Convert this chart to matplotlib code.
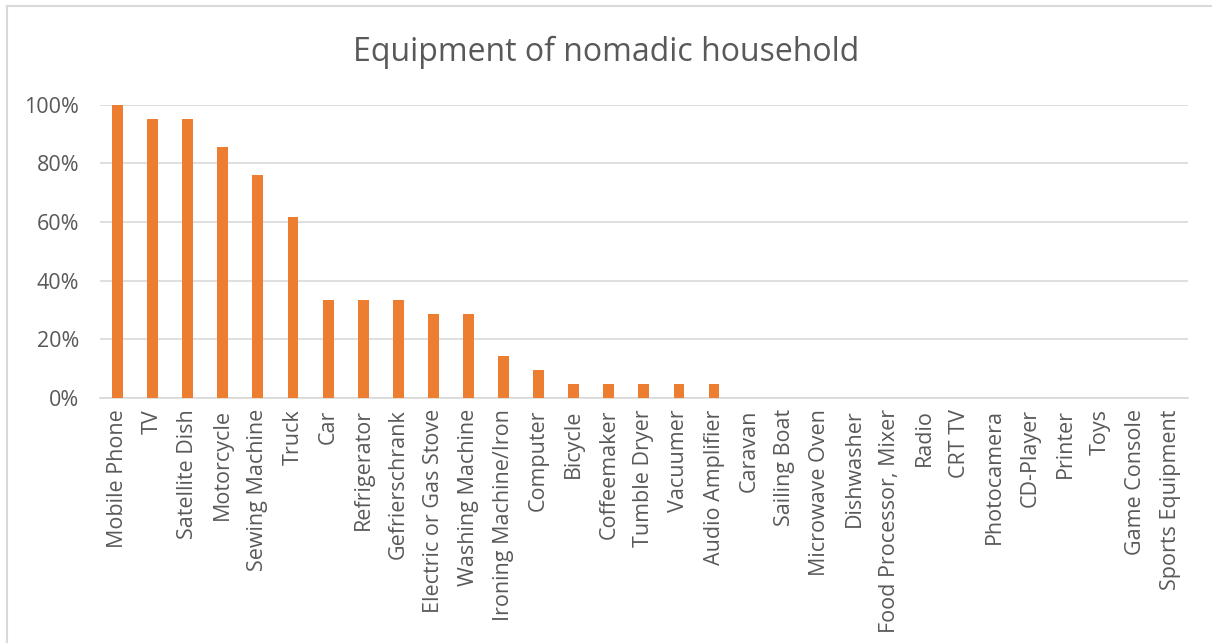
import matplotlib.pyplot as plt
from matplotlib.lines import Line2D
from matplotlib.ticker import PercentFormatter

plt.rcParams['font.family'] = ['Open Sans', 'DejaVu Sans']

categories = [
    "Mobile Phone", "TV", "Satellite Dish", "Motorcycle", "Sewing Machine",
    "Truck", "Car", "Refrigerator", "Gefrierschrank", "Electric or Gas Stove",
    "Washing Machine", "Ironing Machine/Iron", "Computer", "Bicycle",
    "Coffeemaker", "Tumble Dryer", "Vacuumer", "Audio Amplifier", "Caravan",
    "Sailing Boat", "Microwave Oven", "Dishwasher", "Food Processor, Mixer",
    "Radio", "CRT TV", "Photocamera", "CD-Player", "Printer", "Toys",
    "Game Console", "Sports Equipment",
]
shares = [
    1.0, 0.952, 0.952, 0.857, 0.762, 0.619, 0.333, 0.333, 0.333, 0.286,
    0.286, 0.143, 0.095, 0.048, 0.048, 0.048, 0.048, 0.048, 0, 0,
    0, 0, 0, 0, 0, 0, 0, 0, 0, 0, 0,
]

text_col = "#595959"
grid_col = "#D9D9D9"

fig = plt.figure(figsize=(12.12, 6.43), dpi=100)
ax = fig.add_axes([0.0825, 0.381, 0.8975, 0.456])

x = range(len(categories))
ax.bar(x, shares, width=0.31, color="#ED7D31", zorder=3)

ax.set_xlim(-0.5, len(categories) - 0.5)
ax.set_ylim(0, 1.0)
ax.set_yticks([0, 0.2, 0.4, 0.6, 0.8, 1.0])
ax.yaxis.set_major_formatter(PercentFormatter(1.0, decimals=0))
ax.set_xticks(list(x))
ax.set_xticklabels(categories, rotation=90)
ax.tick_params(axis="both", length=0, colors=text_col, labelsize=15.5)
ax.tick_params(axis="x", pad=8)
ax.tick_params(axis="y", pad=15)

ax.grid(axis="y", color=grid_col, linewidth=1.2, zorder=0)
for s in ["top", "right", "left"]:
    ax.spines[s].set_visible(False)
ax.spines["bottom"].set_color(grid_col)
ax.spines["bottom"].set_linewidth(1.2)

fig.suptitle("Equipment of nomadic household", y=0.945, fontsize=23,
             color=text_col)

# chart frame
fig.add_artist(Line2D([7 / 1212, 1], [1 - 6 / 643, 1 - 6 / 643],
                      color=grid_col, linewidth=1.5))
fig.add_artist(Line2D([7 / 1212, 7 / 1212], [0, 1 - 6 / 643],
                      color=grid_col, linewidth=1.5))

plt.savefig("out.png", dpi=100)
